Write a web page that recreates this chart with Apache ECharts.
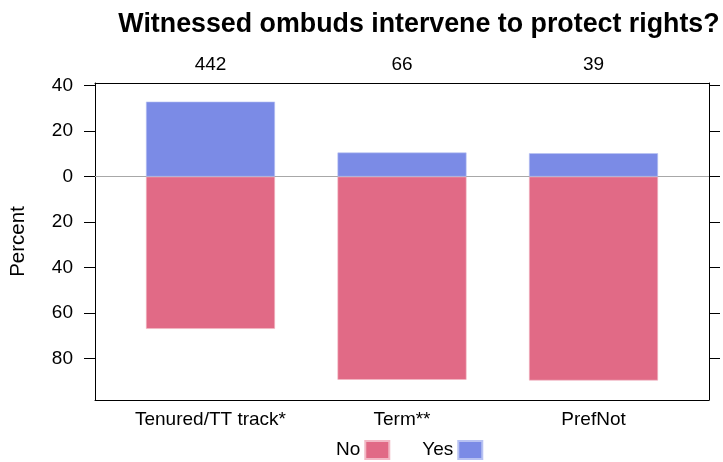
<!DOCTYPE html>
<html>
<head>
<meta charset="utf-8">
<script src="https://cdn.jsdelivr.net/npm/echarts@6/dist/echarts.min.js"></script>
<style>
  html, body { margin: 0; padding: 0; background: #fff; }
  #chart { width: 723px; height: 462px; }
</style>
</head>
<body>
<div id="chart"></div>
<script>
// dados
const categorias = ['Tenured/TT track*', 'Term**', 'PrefNot'];
const respostas = [442, 66, 39];
const pctNo = [67.0, 89.4, 89.7];
const pctYes = [33.0, 10.6, 10.3];
const ticksY = [-80, -60, -40, -20, 0, 20, 40];

const fonte = 'Liberation Sans, Arial, sans-serif';
const corNo = '#E16A86';
const corYes = '#7B8BE6';
const posicoes = categorias.map((_, i) => i);

const chart = echarts.init(document.getElementById('chart'));

const eixoX = {
    type: 'value',
    min: -0.603,
    max: 2.603,
    splitLine: { show: false },
    axisTick: { show: false },
    axisLine: { show: true, onZero: false, lineStyle: { color: '#000', width: 1 } }
};

const eixoY = {
    type: 'value',
    min: -98.3,
    max: 41.2,
    splitLine: { show: false },
    axisLine: { show: true, onZero: false, lineStyle: { color: '#000', width: 1 } },
    axisTick: { show: true, length: 11, customValues: ticksY, lineStyle: { color: '#000' } }
};

chart.setOption({
    animation: false,
    textStyle: { fontFamily: fonte },
    title: {
        text: 'Witnessed ombuds intervene to protect rights?',
        left: 414,
        top: 6,
        textAlign: 'center',
        textStyle: { fontFamily: fonte, fontSize: 26.8, fontWeight: 'bold', color: '#000' }
    },
    legend: {
        data: ['No', 'Yes'],
        left: 331,
        top: 435,
        align: 'right',
        itemWidth: 24,
        itemHeight: 18,
        itemGap: 32,
        icon: 'rect',
        textStyle: { fontFamily: fonte, fontSize: 19, color: '#000' }
    },
    grid: { left: 94, right: 14, top: 83, bottom: 62, containLabel: false },
    xAxis: [
        Object.assign({}, eixoX, {
            position: 'bottom',
            axisLabel: {
                customValues: posicoes,
                margin: 10,
                fontSize: 19,
                color: '#000',
                formatter: v => categorias[Math.round(v)]
            }
        }),
        Object.assign({}, eixoX, {
            position: 'top',
            axisLabel: {
                customValues: posicoes,
                margin: 9,
                fontSize: 19,
                color: '#000',
                formatter: v => String(respostas[Math.round(v)])
            }
        })
    ],
    yAxis: [
        Object.assign({}, eixoY, {
            position: 'left',
            name: 'Percent',
            nameLocation: 'middle',
            nameGap: 66,
            nameTextStyle: { fontFamily: fonte, fontSize: 20.5, color: '#000' },
            axisLabel: {
                customValues: ticksY,
                margin: 22,
                fontSize: 19,
                color: '#000',
                formatter: v => String(Math.abs(v))
            }
        }),
        Object.assign({}, eixoY, {
            position: 'right',
            axisLabel: { show: false }
        })
    ],
    series: [
        {
            name: 'No',
            type: 'bar',
            stack: 'neg',
            barWidth: 129,
            itemStyle: { color: corNo, borderColor: '#F2B8C5', borderWidth: 0.6 },
            data: posicoes.map((p, i) => [p, -pctNo[i]]),
            markLine: {
                silent: true,
                symbol: 'none',
                label: { show: false },
                lineStyle: { color: '#A8A8A8', width: 1, type: 'solid' },
                data: [{ yAxis: 0 }],
                z: 1
            }
        },
        {
            name: 'Yes',
            type: 'bar',
            stack: 'pos',
            barWidth: 129,
            barGap: '-100%',
            itemStyle: { color: corYes, borderColor: '#B8C2F2', borderWidth: 0.6 },
            data: posicoes.map((p, i) => [p, pctYes[i]])
        }
    ]
});
</script>
</body>
</html>
